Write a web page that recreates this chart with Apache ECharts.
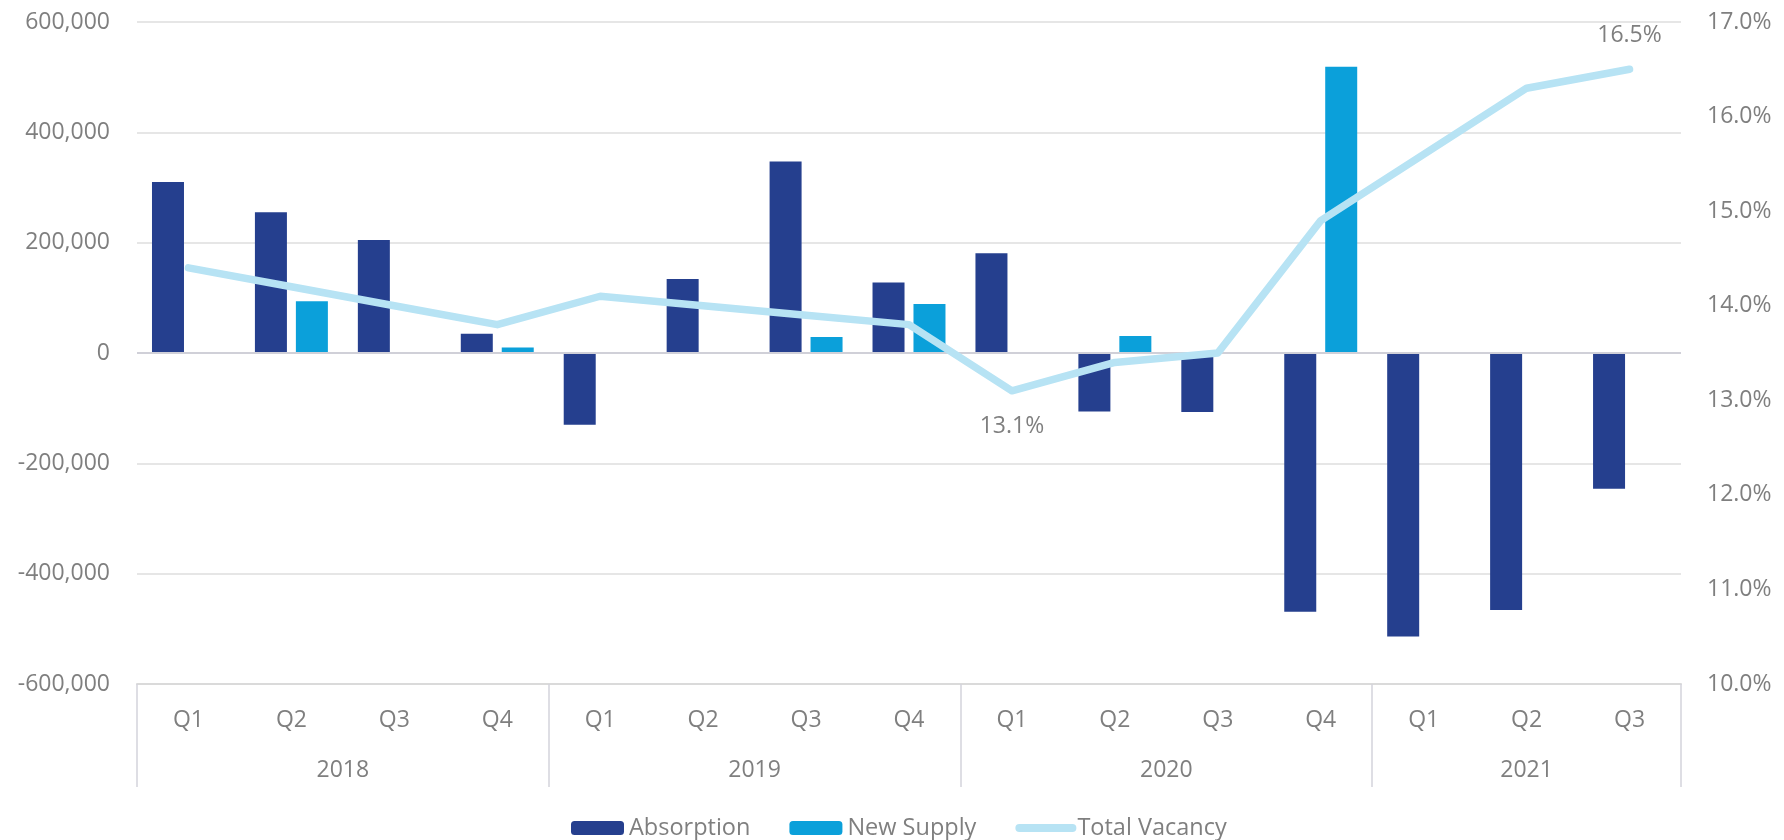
<!DOCTYPE html>
<html>
<head>
<meta charset="utf-8">
<script src="https://cdn.jsdelivr.net/npm/echarts@6/dist/echarts.min.js"></script>
<style>
  html, body { margin: 0; padding: 0; background: #fff; }
  #chart { width: 1784px; height: 840px; }
</style>
</head>
<body>
<div id="chart"></div>
<script>
// quarters and the year each one belongs to
const quarters = ["Q1", "Q2", "Q3", "Q4", "Q1", "Q2", "Q3", "Q4", "Q1", "Q2", "Q3", "Q4", "Q1", "Q2", "Q3"];
const quarterYears = ["2018", "2018", "2018", "2018", "2019", "2019", "2019", "2019",
  "2020", "2020", "2020", "2020", "2021", "2021", "2021"];

const absorption = [310000, 255000, 205000, 35000, -130000, 134000, 347000, 128000,
  181000, -106000, -107000, -469000, -514000, -466000, -246000];
const newSupply = [null, 94000, null, 10000, null, null, 29000, 89000,
  null, 31000, null, 519000, null, null, null];
const totalVacancy = [14.4, 14.2, 14.0, 13.8, 14.1, 14.0, 13.9, 13.8,
  13.1, 13.4, 13.5, 14.9, 15.6, 16.3, 16.5];

const leftTicks = { min: -600000, max: 600000, step: 200000 };
const rightTicks = { min: 10, max: 17, step: 1 };

const grey = "#7f7f7f";
const font = "Open Sans";
const vacancyColor = "#b7e3f4";

// year groups -> boundaries and centres on a 0..n scale
const groups = [];
quarterYears.forEach((y, i) => {
  const last = groups[groups.length - 1];
  if (last && last.name === y) last.end = i + 1;
  else groups.push({ name: y, start: i, end: i + 1 });
});
const boundaries = [0].concat(groups.map(g => g.end));
const centres = groups.map(g => (g.start + g.end) / 2);

const vacancyData = totalVacancy.map((v, i) => {
  if (i === 8) return { value: v, label: { show: true, position: "bottom", distance: 24 } };
  if (i === totalVacancy.length - 1) return { value: v, label: { show: true, position: "top", distance: 22 } };
  return v;
});

const chart = echarts.init(document.getElementById("chart"));
chart.setOption({
  animation: false,
  textStyle: { fontFamily: font },
  grid: { left: 137, right: 103, top: 22, bottom: 156, containLabel: false },
  legend: {
    left: 571,
    top: 816,
    padding: 0,
    itemWidth: 53,
    itemHeight: 14,
    itemGap: 39,
    textStyle: { color: grey, fontSize: 23.5, fontFamily: font },
    data: [
      { name: "Absorption" },
      { name: "New Supply" },
      {
        name: "Total Vacancy",
        itemStyle: { opacity: 0 },
        lineStyle: { width: 8, cap: "round", color: vacancyColor }
      }
    ]
  },
  xAxis: [
    {
      type: "category",
      data: quarters,
      axisLine: { onZero: false, lineStyle: { color: "#dadada", width: 2 } },
      axisTick: { show: false },
      axisLabel: { color: grey, fontSize: 23, margin: 25, fontFamily: font },
      splitLine: { show: false }
    },
    {
      type: "value",
      min: 0,
      max: quarters.length,
      position: "bottom",
      axisLine: { show: false, onZero: false },
      splitLine: { show: false },
      axisTick: {
        show: true,
        customValues: boundaries,
        length: 103,
        lineStyle: { color: "#d4d4dc", width: 1.5 }
      },
      axisLabel: {
        customValues: centres,
        color: grey,
        fontSize: 23,
        margin: 75,
        fontFamily: font,
        formatter: v => {
          const k = centres.indexOf(v);
          return k >= 0 ? groups[k].name : "";
        }
      }
    }
  ],
  yAxis: [
    {
      type: "value",
      min: leftTicks.min,
      max: leftTicks.max,
      interval: leftTicks.step,
      axisLine: { show: false },
      axisTick: { show: false },
      axisLabel: {
        color: grey,
        fontSize: 23,
        margin: 27,
        fontFamily: font,
        formatter: v => v.toLocaleString("en-US")
      },
      splitLine: { lineStyle: { color: "#e6e6e6", width: 2 } }
    },
    {
      type: "value",
      min: rightTicks.min,
      max: rightTicks.max,
      interval: rightTicks.step,
      position: "right",
      axisLine: { show: false },
      axisTick: { show: false },
      splitLine: { show: false },
      axisLabel: {
        color: grey,
        fontSize: 23,
        margin: 26,
        fontFamily: font,
        formatter: v => v.toFixed(1) + "%"
      }
    }
  ],
  series: [
    {
      name: "Absorption",
      type: "bar",
      data: absorption,
      barWidth: 32,
      barGap: "28%",
      itemStyle: { color: "#253f8e" },
      markLine: {
        silent: true,
        symbol: "none",
        label: { show: false },
        lineStyle: { color: "#d0d0d8", width: 2, type: "solid" },
        data: [{ yAxis: 0 }]
      }
    },
    {
      name: "New Supply",
      type: "bar",
      data: newSupply,
      barWidth: 32,
      barGap: "28%",
      itemStyle: { color: "#0ba0da" }
    },
    {
      name: "Total Vacancy",
      type: "line",
      yAxisIndex: 1,
      data: vacancyData,
      symbol: "circle",
      symbolSize: 1,
      showSymbol: true,
      itemStyle: { color: vacancyColor },
      lineStyle: { color: vacancyColor, width: 7.5, cap: "round", join: "round" },
      label: {
        show: false,
        color: grey,
        fontSize: 23,
        fontFamily: font,
        formatter: p => p.value.toFixed(1) + "%"
      },
      z: 5
    }
  ]
});
</script>
</body>
</html>
